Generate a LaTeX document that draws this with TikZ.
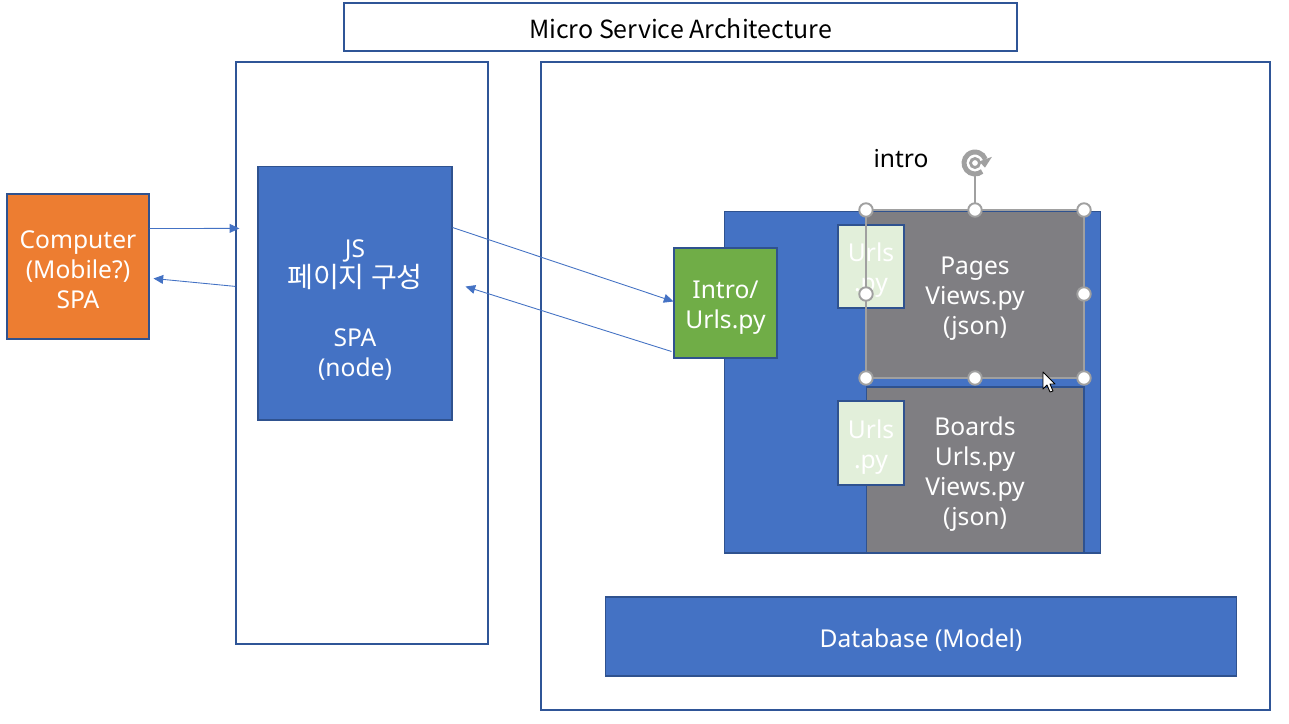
\documentclass[tikz,border=0pt]{standalone}
\usepackage{fontspec}
\setmainfont{Noto Sans}
\newfontfamily\kr{Noto Sans CJK KR}
\usetikzlibrary{arrows.meta,calc}
\definecolor{pblue}{HTML}{4472C4}
\definecolor{pborder}{HTML}{2F528F}
\definecolor{outerb}{HTML}{2F5597}
\definecolor{porange}{HTML}{ED7D31}
\definecolor{pgreen}{HTML}{70AD47}
\definecolor{pgray}{HTML}{7F7E82}
\definecolor{plight}{HTML}{E2EFDA}
\definecolor{hgray}{HTML}{A0A0A0}
\tikzset{
  outerbox/.style={draw=outerb,line width=0.75pt,fill=white,inner sep=0pt},
  fillbox/.style={draw=pborder,line width=0.6pt,inner sep=0pt},
  wtext/.style={text=white,align=center,font=\fontsize{14}{17}\selectfont,inner sep=0pt},
  conn/.style={draw=pblue,line width=0.5pt,-{Triangle[length=5.5pt,width=5pt]}},
  handle/.style={circle,draw=hgray,fill=white,line width=1.1pt,minimum size=0.27cm,inner sep=0pt},
}
\begin{document}
\begin{tikzpicture}[x=0.02cm,y=-0.02cm]
\useasboundingbox[fill=white] (0,0) rectangle (1289,724);
% title
\node[outerbox,minimum width=13.46cm,minimum height=0.96cm] (title) at (680.5,27) {};
\node[font=\kr\fontsize{14.2}{16}\selectfont,inner sep=0pt] (titletext) at (680.5,29) {Micro Service Architecture};
% big frames
\node[outerbox,minimum width=5.04cm,minimum height=11.64cm] (leftbox) at (362,353) {};
\node[outerbox,minimum width=14.58cm,minimum height=12.96cm] (rightbox) at (905.5,386) {};
% computer
\node[fillbox,fill=porange,minimum width=2.84cm,minimum height=2.9cm] (comp) at (78,266.5) {};
\node[wtext] (comptext) at (78,270) {Computer\\(Mobile?)\\SPA};
% JS box
\node[fillbox,fill=pblue,minimum width=3.88cm,minimum height=5.08cm] (js) at (355,293) {};
\node[wtext] (jstext) at (355,310) {JS\\{\kr\fontsize{16}{17}\selectfont 페이지 구성}\\[17pt]SPA\\(node)};
% inner blue
\node[fillbox,fill=pblue,minimum width=7.54cm,minimum height=6.84cm] (inner) at (912.5,382) {};
% green intro
\node[fillbox,fill=pgreen,minimum width=2.06cm,minimum height=2.2cm] (green) at (725.5,303) {};
\node[wtext] (greentext) at (725.5,307.5) {Intro/\\Urls.py};
% pages
\node[fillbox,fill=pgray,minimum width=4.36cm,minimum height=3.34cm] (pages) at (975,294.5) {};
\node[wtext] (pagestext) at (975,298.5) {Pages\\Views.py\\(json)};
\node[fillbox,fill=plight,minimum width=1.32cm,minimum height=1.66cm] (urls1) at (871,266.5) {};
\node[wtext] (urls1text) at (871,270) {Urls\\.py};
% boards
\node[fillbox,fill=pgray,minimum width=4.36cm,minimum height=3.32cm] (boards) at (975,470) {};
\node[wtext] (boardstext) at (975,474) {Boards\\Urls.py\\Views.py\\(json)};
\node[fillbox,fill=plight,minimum width=1.32cm,minimum height=1.68cm] (urls2) at (871,443) {};
\node[wtext] (urls2text) at (871,447) {Urls\\.py};
% database
\node[fillbox,fill=pblue,minimum width=12.64cm,minimum height=1.58cm] (db) at (921,636.5) {};
\node[wtext] (dbtext) at (921,640) {Database (Model)};
% intro label
\node[font=\fontsize{14}{16}\selectfont,inner sep=0pt] (introlabel) at (901,159) {intro};
% connectors
\draw[conn] ($(comp.north east)+(0,35)$) -- ($(leftbox.north west)+(4,167)$);
\draw[conn] ($(leftbox.north west)+(0,225)$) -- ($(comp.north east)+(4,85)$);
\draw[conn] ($(js.north east)+(0,62)$) -- ($(green.north west)+(0,54)$);
\draw[conn] ($(green.north west)+(-2,104)$) -- ($(js.north east)+(13,121)$);
% selection frame
\draw[hgray,line width=0.8pt] (866,210) rectangle (1084,378);
\coordinate (rot) at (975,163);
\draw[hgray,line width=0.9pt] (975,210) -- (975,176);
\draw[hgray,line width=2.8pt] ($(rot)+(50:11)$) arc (50:340:11);
\draw[hgray,line width=1.6pt] (rot) circle (4.5);
\fill[hgray] ($(rot)+(-20:18)$) -- ($(rot)+(-20:4.5)$) -- ($(rot)+(25:11)$) -- cycle;
\foreach \p in {(866,210),(975,210),(1084,210),(866,294),(1084,294),(866,378),(975,378),(1084,378)}
  \node[handle] at \p {};
% cursor
\draw[black,fill=white,line width=0.5pt,line join=round] (1043,372) -- (1043,389) -- (1047,385) -- (1050,392) -- (1053,391) -- (1050,384) -- (1055,384) -- cycle;
\end{tikzpicture}
\end{document}
